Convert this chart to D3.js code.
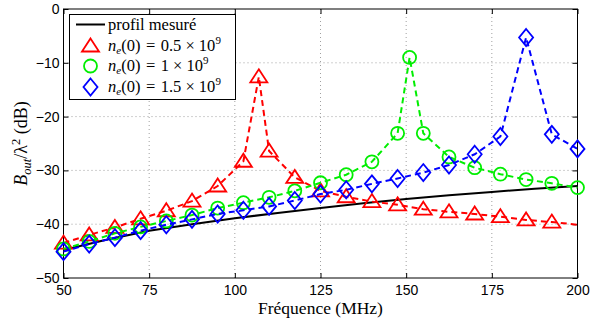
<!DOCTYPE html>
<html>
<head>
<meta charset="utf-8">
<script src="https://cdn.jsdelivr.net/npm/d3@7"></script>
<style>
  body { margin: 0; background: #fff; }
  svg { display: block; }
  .tick text { font-family: "Liberation Sans", Arial, sans-serif; font-size: 14px; fill: #000; }
</style>
</head>
<body>
<div id="chart"></div>
<script>
// data
const xTicks = [50, 75, 100, 125, 150, 175, 200]
const yTicks = [0, -10, -20, -30, -40, -50]

const profilFreq = [50, 62.5, 75, 87.5, 100, 112.5, 125, 137.5, 150, 162.5, 175, 187.5, 200]
const profilVals = [-44.8, -42.9, -41.2, -40.0, -38.9, -37.9, -37.0, -36.1, -35.3, -34.6, -34.0, -33.4, -32.9]

const redFreq = [50, 57.5, 65, 72.5, 80, 87.5, 95, 102.5, 107, 110, 117.5, 125, 132.5, 140, 147.5, 155, 162.5, 170, 177.5, 185, 192.5, 200]
const redVals = [-43.5, -42.0, -40.6, -39.0, -37.5, -35.7, -32.9, -28.3, -12.6, -26.4, -31.3, -33.8, -34.9, -35.8, -36.4, -37.2, -37.7, -38.1, -38.6, -39.2, -39.6, -40.1]

const greenFreq = [50, 57.5, 65, 72.5, 80, 87.5, 95, 102.5, 110, 117.5, 125, 132.5, 140, 147.5, 151, 155, 162.5, 170, 177.5, 185, 192.5, 200]
const greenVals = [-44.6, -43.2, -41.7, -40.5, -39.4, -38.3, -37.0, -36.0, -35.0, -33.8, -32.3, -30.8, -28.4, -23.1, -9.0, -23.1, -27.5, -29.5, -30.7, -31.7, -32.4, -33.2]

const blueFreq = [50, 57.5, 65, 72.5, 80, 87.5, 95, 102.5, 110, 117.5, 125, 132.5, 140, 147.5, 155, 162.5, 170, 177.5, 185, 192.5, 200]
const blueVals = [-45.1, -43.7, -42.5, -41.2, -40.1, -39.1, -38.1, -37.4, -36.7, -35.6, -34.4, -33.6, -32.5, -31.5, -30.4, -29.0, -27.0, -23.7, -5.3, -23.3, -26.0]

const width = 604
const height = 322
const mLeft = 63.5, mRight = 577.5, mTop = 9, mBottom = 278
const serif = '"Liberation Serif", "DejaVu Serif", "Times New Roman", serif'

const svg = d3.select('#chart').append('svg').attr('width', width).attr('height', height)

const x = d3.scaleLinear().domain([50, 200]).range([mLeft, mRight])
const y = d3.scaleLinear().domain([-50, 0]).range([mBottom, mTop])

// dotted grid
const grid = svg.append('g')
grid.selectAll('.gx').data(xTicks.slice(1, -1)).enter().append('line')
    .attr('x1', d => x(d)).attr('x2', d => x(d)).attr('y1', mTop).attr('y2', mBottom)
    .attr('stroke', '#a0a0a0').attr('stroke-width', 1).attr('stroke-dasharray', '1,3')
grid.selectAll('.gy').data(yTicks.slice(1, -1)).enter().append('line')
    .attr('x1', mLeft).attr('x2', mRight).attr('y1', d => y(d)).attr('y2', d => y(d))
    .attr('stroke', '#a0a0a0').attr('stroke-width', 1).attr('stroke-dasharray', '1,3')

// axes, ticks pointing inward
const xAxis = d3.axisBottom(x).tickValues(xTicks).tickSizeInner(-5).tickSizeOuter(0).tickPadding(7)
const yAxis = d3.axisLeft(y).tickValues(yTicks).tickSizeInner(-5).tickSizeOuter(0).tickPadding(4)
svg.append('g').attr('transform', `translate(0,${mBottom})`).call(xAxis)
svg.append('g').attr('transform', `translate(${mLeft},0)`).call(yAxis)
svg.append('g').attr('transform', `translate(0,${mTop})`).call(d3.axisTop(x).tickValues(xTicks).tickSizeInner(-5).tickSizeOuter(0).tickFormat(''))
svg.append('g').attr('transform', `translate(${mRight},0)`).call(d3.axisRight(y).tickValues(yTicks).tickSizeInner(-5).tickSizeOuter(0).tickFormat(''))
svg.selectAll('.domain').remove()
svg.selectAll('.tick line').attr('stroke', '#000')

svg.append('rect').attr('x', mLeft).attr('y', mTop).attr('width', mRight - mLeft).attr('height', mBottom - mTop)
    .attr('fill', 'none').attr('stroke', '#000').attr('stroke-width', 1)

const line = d3.line().x(d => x(d[0])).y(d => y(d[1]))
const zip = (a, b) => a.map((v, i) => [v, b[i]])

// black measured profile
svg.append('path').datum(zip(profilFreq, profilVals)).attr('d', line)
    .attr('fill', 'none').attr('stroke', '#000').attr('stroke-width', 2)

const triangle = (cx, cy) => `M${cx},${cy - 7.5}L${cx + 8.5},${cy + 5.5}L${cx - 8.5},${cy + 5.5}Z`
const circle = (cx, cy) => `M${cx + 6.5},${cy}A6.5,6.5 0 1,1 ${cx - 6.5},${cy}A6.5,6.5 0 1,1 ${cx + 6.5},${cy}Z`
const diamond = (cx, cy) => `M${cx},${cy - 8.5}L${cx + 7},${cy}L${cx},${cy + 8.5}L${cx - 7},${cy}Z`

const series = [
    { freq: redFreq, vals: redVals, color: '#ff0000', shape: triangle, lastMarker: false },
    { freq: greenFreq, vals: greenVals, color: '#00ee00', shape: circle, lastMarker: true },
    { freq: blueFreq, vals: blueVals, color: '#0000ff', shape: diamond, lastMarker: true }
]

series.forEach(s => {
    const pts = zip(s.freq, s.vals)
    svg.append('path').datum(pts).attr('d', line)
        .attr('fill', 'none').attr('stroke', s.color).attr('stroke-width', 2).attr('stroke-dasharray', '6,4')
    svg.append('g').selectAll('path').data(s.lastMarker ? pts : pts.slice(0, -1)).enter().append('path')
        .attr('d', d => s.shape(x(d[0]), y(d[1])))
        .attr('fill', 'none').attr('stroke', s.color).attr('stroke-width', 1.8)
})

// legend
const lg = svg.append('g')
lg.append('rect').attr('x', 69.5).attr('y', 14.5).attr('width', 166).attr('height', 85)
    .attr('fill', '#fff').attr('stroke', '#000').attr('stroke-width', 1)
lg.append('line').attr('x1', 76).attr('x2', 105).attr('y1', 24.5).attr('y2', 24.5).attr('stroke', '#000').attr('stroke-width', 2)
lg.append('text').style('font-family', serif).attr('x', 108).attr('y', 29.5).attr('font-size', 16.5).text('profil mesuré')

const legendRows = [
    { label: '0.5', y: 46 },
    { label: '1', y: 66 },
    { label: '1.5', y: 87 }
]
legendRows.forEach((r, i) => {
    const s = series[i]
    lg.append('path').attr('d', s.shape(90.5, r.y)).attr('fill', 'none').attr('stroke', s.color).attr('stroke-width', 1.8)
    const t = lg.append('text').style('font-family', serif).attr('x', 108).attr('y', r.y + 5).attr('font-size', 16.5)
    t.append('tspan').attr('font-style', 'italic').text('n')
    t.append('tspan').attr('font-style', 'italic').attr('font-size', 11).attr('dy', 3).text('e')
    t.append('tspan').attr('dy', -3).text(`(0)\u2004=\u2004${r.label}\u2005×\u200510`)
    t.append('tspan').attr('font-size', 11).attr('dy', -7).text('9')
})

// axis titles
svg.append('text').style('font-family', serif).attr('x', (mLeft + mRight) / 2).attr('y', 314)
    .attr('text-anchor', 'middle').attr('font-size', 17.5).text('Fréquence (MHz)')

const yl = svg.append('text').style('font-family', serif).attr('text-anchor', 'middle').attr('font-size', 18)
    .attr('transform', `translate(27,${(mTop + mBottom) / 2}) rotate(-90)`)
yl.append('tspan').attr('font-style', 'italic').text('B')
yl.append('tspan').attr('font-style', 'italic').attr('font-size', 12.5).attr('dy', 4).text('out')
yl.append('tspan').attr('dy', -4).text('/λ')
yl.append('tspan').attr('font-size', 12.5).attr('dy', -7).text('2')
yl.append('tspan').attr('dy', 7).text(' (dB)')
</script>
</body>
</html>
